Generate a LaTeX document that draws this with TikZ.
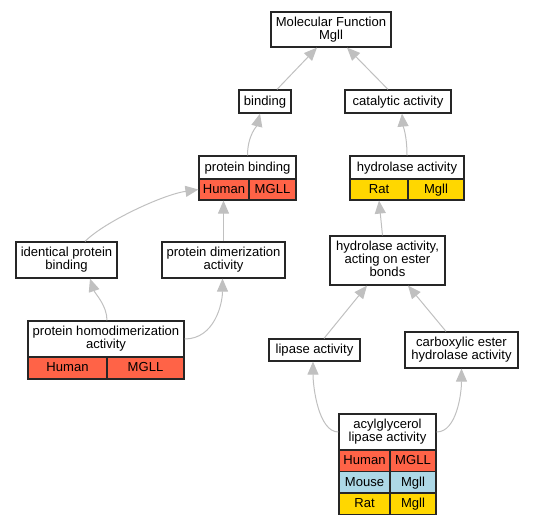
\documentclass[tikz,border=0pt]{standalone}
\usepackage{fontspec}
\setmainfont{Liberation Sans}
\usetikzlibrary{arrows.meta}

\definecolor{human}{HTML}{FF6347}
\definecolor{mouse}{HTML}{ADD8E6}
\definecolor{rat}{HTML}{FFD700}
\definecolor{edgegray}{HTML}{C0C0C0}

\tikzset{
  term/.style={draw=black!85, line width=1.2bp, fill=white, inner sep=0pt, align=center,
    font=\fontsize{13.1}{13}\selectfont,
    execute at begin node={\rule{0pt}{10.4bp}}, execute at end node={\vphantom{g}}},
  cell/.style={term, minimum height=21.5bp},
  isa/.style={draw=edgegray, line width=1bp, -{Triangle[length=13bp,width=11bp]}},
}

\begin{document}
\begin{tikzpicture}[x=1bp, y=-1bp]
  \useasboundingbox (0,0) rectangle (533,525);

  % terms
  \node[term, minimum width=120bp, minimum height=35bp] (mf) at (331,29.5) {Molecular Function\\Mgll};
  \node[term, minimum width=52bp, minimum height=23bp] (bind) at (265,101.5) {binding};
  \node[term, minimum width=106bp, minimum height=23bp] (cat) at (398,101.5) {catalytic activity};

  \node[term, minimum width=97bp, minimum height=23bp] (pb) at (247.5,167.5) {protein binding};
  \node[cell, fill=human, minimum width=50bp, minimum height=21bp] (pbH) at (224,189.5) {Human};
  \node[cell, fill=human, minimum width=47bp, minimum height=21bp] (pbM) at (272.5,189.5) {MGLL};

  \node[term, minimum width=114bp, minimum height=23bp] (ha) at (407,167.5) {hydrolase activity};
  \node[cell, fill=rat, minimum width=58bp, minimum height=21bp] (haR) at (379,189.5) {Rat};
  \node[cell, fill=rat, minimum width=56bp, minimum height=21bp] (haM) at (436,189.5) {Mgll};

  \node[term, minimum width=101bp, minimum height=36bp] (ipb) at (66.5,260) {identical protein\\binding};
  \node[term, minimum width=123bp, minimum height=36bp] (pda) at (223.5,260) {protein dimerization\\activity};

  \node[term, minimum width=156bp, minimum height=36bp] (phd) at (106,339) {protein homodimerization\\activity};
  \node[cell, fill=human, minimum width=79bp, minimum height=22bp] (phdH) at (67.5,368) {Human};
  \node[cell, fill=human, minimum width=77bp, minimum height=22bp] (phdM) at (145.5,368) {MGLL};

  \node[term, minimum width=115bp, minimum height=49bp] (hae) at (387.5,260.5) {hydrolase activity,\\acting on ester\\bonds};
  \node[term, minimum width=91bp, minimum height=22bp] (lip) at (314.5,350) {lipase activity};
  \node[term, minimum width=113bp, minimum height=36bp] (ceh) at (461.5,350) {carboxylic ester\\hydrolase activity};

  \node[term, minimum width=97bp, minimum height=36bp] (agl) at (387.5,432) {acylglycerol\\lipase activity};
  \node[cell, fill=human, minimum width=51bp] (aglH) at (364.5,460.75) {Human};
  \node[cell, fill=human, minimum width=46bp] (aglHg) at (413,460.75) {MGLL};
  \node[cell, fill=mouse, minimum width=51bp] (aglM) at (364.5,482.25) {Mouse};
  \node[cell, fill=mouse, minimum width=46bp] (aglMg) at (413,482.25) {Mgll};
  \node[cell, fill=rat, minimum width=51bp] (aglR) at (364.5,503.75) {Rat};
  \node[cell, fill=rat, minimum width=46bp] (aglRg) at (413,503.75) {Mgll};

  % is_a links
  \draw[isa] ([xshift=12bp]bind.north) -- ([xshift=-14bp]mf.south);
  \draw[isa] ([xshift=-10bp]cat.north) -- ([xshift=16bp]mf.south);
  \draw[isa] (pb.north) .. controls +(0,-20) and +(-3,12) .. ([xshift=-5bp]bind.south);
  \draw[isa] (ha.north) .. controls +(0,-20) and +(1,12) .. ([xshift=4bp]cat.south);
  \draw[isa] ([xshift=18.5bp]ipb.north) .. controls +(20,-20) and +(-35,5) .. (pbH.west);
  \draw[isa] (pda.north) -- (pda.north |- pbH.south);
  \draw[isa] ([xshift=1bp]phd.north) .. controls +(0,-15) and +(5,15) .. ([xshift=23.5bp]ipb.south);
  \draw[isa] (phd.east) .. controls +(30,0) and +(0,25) .. ([xshift=-1bp]pda.south);
  \draw[isa] ([xshift=-5bp]hae.north) -- (haR.south);
  \draw[isa] ([xshift=9.5bp]lip.north) -- ([xshift=-20.5bp]hae.south);
  \draw[isa] ([xshift=-15.5bp]ceh.north) -- ([xshift=20.5bp]hae.south);
  \draw[isa] (agl.west) .. controls +(-20,0) and +(0,25) .. ([xshift=-1.5bp]lip.south);
  \draw[isa] (agl.east) .. controls +(20,0) and +(0,25) .. (ceh.south);
\end{tikzpicture}
\end{document}
